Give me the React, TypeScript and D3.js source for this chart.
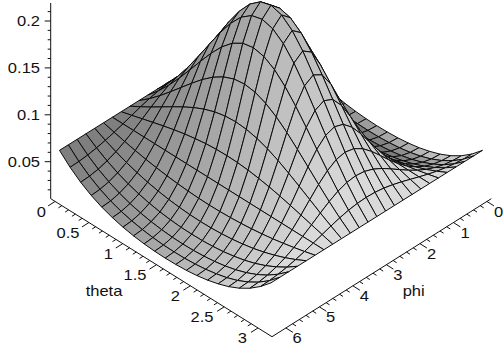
import React from "react";
import * as d3 from "d3";

// Height, quarter of the grid (theta 0..pi/2 in rows, phi 0..pi in columns);
// the picture is mirror-symmetric about theta = pi/2 and about phi = pi.
const row00 = [.0621,.0621,.0621,.0621,.0621,.0621,.0621,.0621,.0621,.0621,.0621,.0621,.0621];
const row01 = [.0511,.0514,.0524,.0541,.0563,.0590,.0621,.0653,.0685,.0713,.0736,.0750,.0755];
const row02 = [.0422,.0428,.0444,.0473,.0512,.0562,.0621,.0686,.0753,.0816,.0868,.0902,.0914];
const row03 = [.0352,.0359,.0380,.0416,.0468,.0536,.0621,.0719,.0825,.0928,.1015,.1074,.1095];
const row04 = [.0298,.0305,.0329,.0369,.0430,.0513,.0621,.0751,.0897,.1044,.1173,.1263,.1295];
const row05 = [.0257,.0264,.0289,.0332,.0399,.0494,.0621,.0781,.0966,.1160,.1335,.1458,.1503];
const row06 = [.0226,.0234,.0259,.0304,.0375,.0478,.0621,.0807,.1030,.1270,.1491,.1649,.1707];
const row07 = [.0204,.0212,.0237,.0282,.0356,.0466,.0621,.0828,.1084,.1365,.1629,.1821,.1892];
const row08 = [.0189,.0197,.0222,.0268,.0343,.0457,.0621,.0845,.1125,.1439,.1739,.1958,.2039];
const row09 = [.0181,.0188,.0213,.0259,.0335,.0451,.0621,.0855,.1151,.1487,.1809,.2046,.2134];
const row10 = [.0178,.0186,.0210,.0257,.0332,.0449,.0621,.0858,.1160,.1503,.1833,.2077,.2168];
const quarterRows = [row00,row01,row02,row03,row04,row05,row06,row07,row08,row09,row10];

const zTickLabels = ["0.05","0.1","0.15","0.2"];
const zTicks = [0.05,0.1,0.15,0.2];
const thetaTicks = [0,0.5,1,1.5,2,2.5,3];
const thetaTickLabels = ["0","0.5","1","1.5","2","2.5","3"];
const phiTicks = [0,1,2,3,4,5,6];
const thetaMinor = d3.range(0,31).map(d=>d/10);
const phiMinor = d3.range(0,31).map(d=>d/5);
const zMinor = d3.range(2,22).map(d=>d/100);

const midA = quarterRows.length - 1, midB = row00.length - 1;
const fullRow = (r:number[]) => [...r, ...r.slice(0,midB).reverse()];
const halfRows = quarterRows.map(fullRow);
const grid = [...halfRows, ...halfRows.slice(0,midA).reverse()];
const Na = grid.length - 1, Nb = grid[0].length - 1;

const W = 504, H = 352;
const back = [271, 60.7], base = 198.7, dx = 220.3, dy = 138;
const yZ = d3.scaleLinear().domain([0.05,0.2]).range([161.7,21]);
const frac = d3.scaleLinear().domain([0,1]).range([0.02,0.98]);
const project = (a:number,b:number,z:number):[number,number] => {
  const fa = frac(a), fb = frac(b);
  return [back[0]+dx*(fa-fb), back[1]+dy*(fa+fb)+yZ(z)-base];
};
const zExt = d3.extent(grid.flat()) as [number,number];
const cWorld = d3.scaleLinear().domain(zExt).range([0,0.8]);
const path = d3.line();
const gray = d3.scaleLinear().domain([0,1]).range([124,226]);
const backFade = d3.scaleLinear().domain([0.08,0.2]).range([1,0]).clamp(true);

type Cell = {d:string; fill:string; o:number};
const cells:Cell[] = [];
for (let i=0;i<Na;i++) for (let j=0;j<Nb;j++) {
  const p = [[i,j],[i+1,j],[i+1,j+1],[i,j+1]].map(([u,v])=>project(u/Na,v/Nb,grid[u][v]));
  const dca = ((cWorld(grid[i+1][j])+cWorld(grid[i+1][j+1]))-(cWorld(grid[i][j])+cWorld(grid[i][j+1])))/2*Na;
  const dcb = ((cWorld(grid[i][j+1])+cWorld(grid[i+1][j+1]))-(cWorld(grid[i][j])+cWorld(grid[i+1][j])))/2*Nb;
  const nb = -dcb/Math.hypot(dca,dcb,1);
  const g = Math.max(108,Math.min(218,gray((i+.5)/Na)+220*Math.min(0,nb)*backFade((j+.5)/Nb)));
  cells.push({d:path(p)+"Z",fill:d3.rgb(g,g,g).formatHex(),o:(i+.5)/Na+(j+.5)/Nb});
}
cells.sort((a,b)=>a.o-b.o);

const LL:[number,number]=[50.7,198.7], FF:[number,number]=[272,336.7], RR:[number,number]=[491.3,198.7];
const thetaPos = (v:number) => { const t=frac(v/Math.PI); return [LL[0]+(FF[0]-LL[0])*t, LL[1]+(FF[1]-LL[1])*t]; };
const phiPos = (v:number) => { const t=frac(v/(2*Math.PI)); return [RR[0]+(FF[0]-RR[0])*t, RR[1]+(FF[1]-RR[1])*t]; };
const thetaLabelX = d3.scaleLinear().domain([0,3]).range([46,247]);
const thetaLabelY = d3.scaleLinear().domain([0,3]).range([211.7,338]);
const phiLabelX = d3.scaleLinear().domain([0,6]).range([498.7,297]);
const phiLabelY = d3.scaleLinear().domain([0,6]).range([211.7,338]);

const Label = ({x,y,t,anchor}:{x:number;y:number;t:string;anchor:"start"|"middle"|"end"}) => (
  <text transform={`translate(${x},${y+5}) scale(1.18,1)`} textAnchor={anchor} fontFamily="'Liberation Sans',Arial,sans-serif" fontSize={14} fill="#111">{t}</text>
);

export default function App(){
  const axisColor="#111";
  return (
    <svg width={W} height={H} viewBox={`0 0 ${W} ${H}`} style={{position:"absolute",left:0,top:0,background:"#fff"}}>
      <g stroke={axisColor} strokeWidth={1} fill="none">
        <line x1={LL[0]} y1={3} x2={LL[0]} y2={LL[1]}/>
        <path d={path([LL,FF,RR])!}/>
        {zMinor.map(v=>{const major=zTicks.some(m=>Math.abs(m-v)<1e-6);return <line key={v} x1={LL[0]-(major?6:3)} x2={LL[0]} y1={yZ(v)} y2={yZ(v)}/>;})}
        {thetaMinor.map((v,i)=>{const [x,y]=thetaPos(v);const m=i%5===0?1:0.5;return <line key={v} x1={x} y1={y} x2={x-7*m} y2={y+4.4*m}/>;})}
        {phiMinor.map((v,i)=>{const [x,y]=phiPos(v);const m=i%5===0?1:0.5;return <line key={v} x1={x} y1={y} x2={x+7*m} y2={y+4.4*m}/>;})}
      </g>
      <g stroke="#0c0c0c" strokeWidth={1} strokeLinejoin="round">
        {cells.map((c,k)=><path key={k} d={c.d} fill={c.fill}/>)}
      </g>
      {zTicks.map((v,i)=><Label key={v} x={40} y={yZ(v)} t={zTickLabels[i]} anchor="end"/>)}
      {thetaTicks.map((v,i)=><Label key={v} x={thetaLabelX(v)} y={thetaLabelY(v)} t={thetaTickLabels[i]} anchor="end"/>)}
      {phiTicks.map(v=><Label key={v} x={phiLabelX(v)} y={phiLabelY(v)} t={String(v)} anchor="middle"/>)}
      <Label x={104} y={291} t="theta" anchor="middle"/>
      <Label x={413.7} y={291} t="phi" anchor="middle"/>
    </svg>
  );
}
